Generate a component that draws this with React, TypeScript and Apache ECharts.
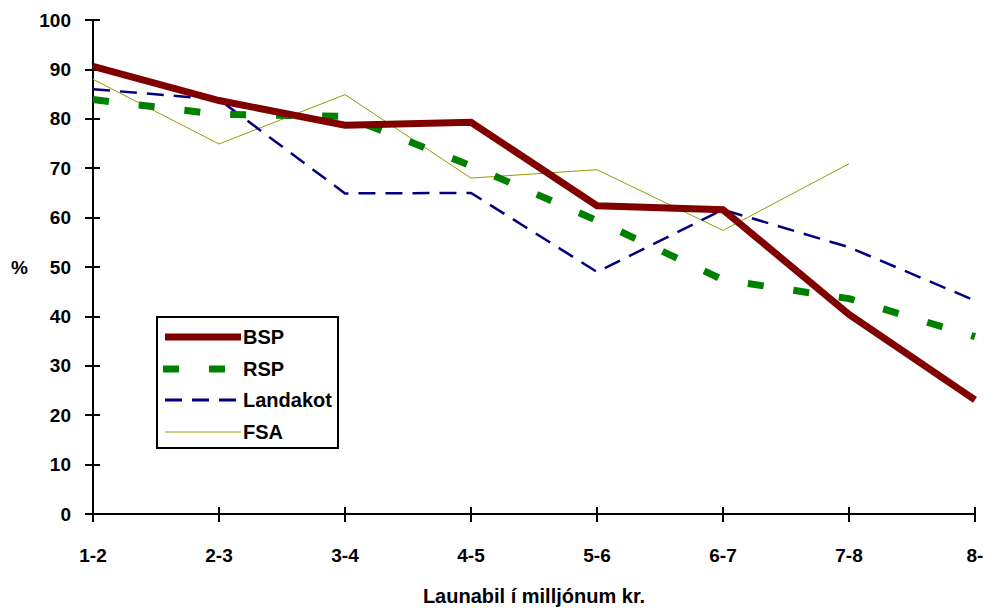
import React, { useEffect, useRef } from "react";
import * as echarts from "echarts";

const categories = ["1-2", "2-3", "3-4", "4-5", "5-6", "6-7", "7-8", "8-"];
const bsp = [90.6, 83.7, 78.7, 79.3, 62.4, 61.6, 40.4, 23.1];
const rsp = [83.9, 80.9, 80.5, 70.5, 59.4, 47.4, 43.6, 35.9];
const landakot = [86, 83.9, 64.9, 65, 49, 61.6, 54, 43.2];
const fsa: (number | null)[] = [88, 74.9, 84.9, 68, 69.7, 57.4, 70.9, null];

const seriesNames = ["BSP", "RSP", "Landakot", "FSA"];
const seriesColors = ["#800000", "#008000", "#000080", "#999900"];
const seriesWidths = [7, 7, 2.5, 1];
const seriesDash: (number[] | null)[] = [null, [16, 30], [17, 10], null];

const FONT = "Liberation Sans, Arial, sans-serif";

export default function App() {
  const ref = useRef<HTMLDivElement>(null);
  useEffect(() => {
    document.body.style.margin = "0";
    const chart = echarts.init(ref.current!, null, { renderer: "svg" });
    const axisLine = { show: true, lineStyle: { color: "#000", width: 2 } };
    const legendItems: any[] = [
      {
        type: "rect",
        shape: { x: 157, y: 317, width: 181, height: 131 },
        style: { fill: "#fff", stroke: "#000", lineWidth: 2 },
      },
    ];
    const rowsY = [337, 369, 400, 432];
    seriesNames.forEach((n, i) => {
      legendItems.push({
        type: "line",
        shape: { x1: i === 1 ? 163 : 165, y1: rowsY[i], x2: 241, y2: rowsY[i] },
        style: {
          stroke: seriesColors[i],
          lineWidth: seriesWidths[i] === 2.5 ? 3 : seriesWidths[i],
          lineDash: seriesDash[i] || null,
        },
      });
      legendItems.push({
        type: "text",
        x: 243,
        y: rowsY[i],
        style: {
          text: n,
          fill: "#000",
          font: `bold 20px ${FONT}`,
          verticalAlign: "middle",
        },
      });
    });
    chart.setOption({
      animation: false,
      backgroundColor: "#fff",
      textStyle: { fontFamily: FONT },
      grid: { left: 93, right: 13, top: 20, bottom: 89, containLabel: false },
      graphic: { elements: [{ type: "group", z: 100, children: legendItems }] },
      xAxis: [
        {
          type: "category",
          data: categories,
          boundaryGap: false,
          axisLine,
          axisTick: { show: true, length: 8, lineStyle: { color: "#000", width: 2 } },
          axisLabel: { color: "#000", fontWeight: "bold", fontSize: 19, fontFamily: FONT, margin: 32, interval: 0 },
          name: "Launabil í milljónum kr.",
          nameLocation: "middle",
          nameGap: 72,
          nameTextStyle: { color: "#000", fontWeight: "bold", fontSize: 20, fontFamily: FONT },
          splitLine: { show: false },
        },
        {
          type: "category",
          data: categories,
          boundaryGap: false,
          position: "bottom",
          axisLine: { show: false },
          axisTick: { show: true, inside: true, length: 7, lineStyle: { color: "#000", width: 2 } },
          axisLabel: { show: false },
          splitLine: { show: false },
        },
      ],
      yAxis: [
        {
          type: "value",
          min: 0,
          max: 100,
          interval: 10,
          axisLine,
          axisTick: { show: true, length: 8, lineStyle: { color: "#000", width: 2 } },
          axisLabel: { color: "#000", fontWeight: "bold", fontSize: 19, fontFamily: FONT, margin: 22 },
          splitLine: { show: false },
          name: "%",
          nameLocation: "middle",
          nameRotate: 0,
          nameGap: 65,
          nameTextStyle: { color: "#000", fontWeight: "bold", fontSize: 19, fontFamily: FONT },
        },
        {
          type: "value",
          min: 0,
          max: 100,
          interval: 10,
          position: "left",
          axisLine: { show: false },
          axisTick: { show: true, inside: true, length: 7, lineStyle: { color: "#000", width: 2 } },
          axisLabel: { show: false },
          splitLine: { show: false },
        },
      ],
      series: [
        { name: "FSA", data: fsa, idx: 3 },
        { name: "Landakot", data: landakot, idx: 2 },
        { name: "RSP", data: rsp, idx: 1 },
        { name: "BSP", data: bsp, idx: 0 },
      ].map((s, k) => ({
        name: s.name,
        type: "line",
        data: s.data,
        symbol: "none",
        lineStyle: {
          color: seriesColors[s.idx],
          width: seriesWidths[s.idx],
          type: seriesDash[s.idx] || "solid",
          cap: "butt",
          join: "miter",
        },
        itemStyle: { color: seriesColors[s.idx] },
        z: 2 + k,
      })),
    });
    return () => chart.dispose();
  }, []);
  return <div ref={ref} style={{ position: "fixed", left: 0, top: 0, width: 988, height: 611 }} />;
}
